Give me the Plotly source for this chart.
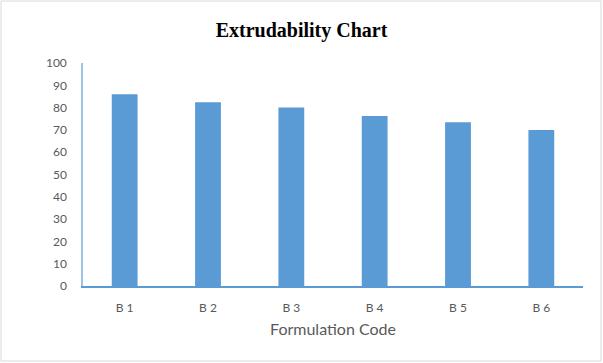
import plotly.graph_objects as go

categories = ["B 1", "B 2", "B 3", "B 4", "B 5", "B 6"]
values = [86, 82.4, 80.1, 76.2, 73.4, 70]
y_ticks = list(range(0, 101, 10))

fig = go.Figure()
fig.add_trace(go.Bar(x=categories, y=values, marker=dict(color="#5B9BD5", line=dict(width=0)), width=0.31))

fig.update_layout(
    width=603, height=363,
    margin=dict(l=83, r=20, t=63, b=77),
    paper_bgcolor="white", plot_bgcolor="white",
    showlegend=False,
    title=dict(text="<b>Extrudability Chart</b>", x=0.5, xanchor="center", y=1 - 30/363, yanchor="middle",
               font=dict(family="Liberation Serif, Times New Roman, serif", size=20, color="black")),
    font=dict(family="Lato, sans-serif", size=12, color="#595959"),
)
fig.update_xaxes(
    showline=True, linecolor="#5B9BD5", linewidth=1.5, showgrid=False,
    ticks="", ticklabelstandoff=10,
    tickfont=dict(size=12, color="#595959"),
    title=dict(text="Formulation Code", font=dict(size=16, color="#595959"), standoff=10),
)
fig.update_yaxes(
    range=[0, 100], tickvals=y_ticks, showline=True, linecolor="#9DC3E6", linewidth=1.5,
    showgrid=False, ticks="", ticklabelstandoff=12, zeroline=False,
    tickfont=dict(size=12, color="#595959"),
)
fig.add_shape(type="rect", xref="paper", yref="paper",
              x0=(1-83)/500, x1=(601-83)/500, y0=(286-361)/223, y1=(286-1)/223,
              line=dict(color="#D9D9D9", width=1), fillcolor="rgba(0,0,0,0)", layer="below")

fig.write_html("out.html")
